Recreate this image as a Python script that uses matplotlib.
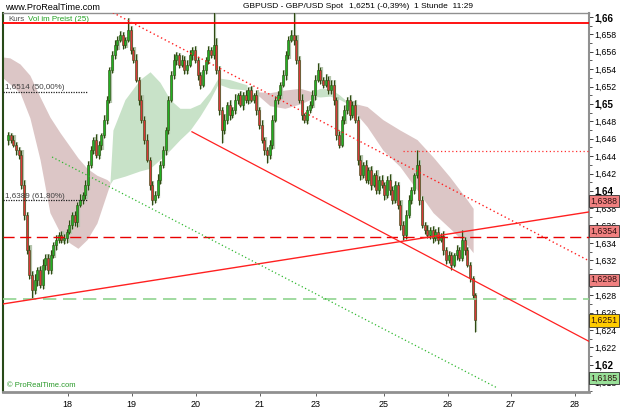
import numpy as np
import matplotlib.pyplot as plt

plt.rcParams['font.family'] = ['Liberation Sans', 'DejaVu Sans']

# hourly closes GBPUSD, bar index 0..175
closes = [
    1.6464, 1.6459, 1.6453, 1.6447, 1.6441, 1.6407, 1.6372, 1.6332, 1.6303, 1.6286,
    1.6298, 1.6309, 1.6292, 1.6315, 1.6323, 1.6309, 1.6326, 1.6338, 1.6344, 1.6349,
    1.6344, 1.6346, 1.6353, 1.6361, 1.6372, 1.6364, 1.6384, 1.6390, 1.6395, 1.6407,
    1.6430, 1.6447, 1.6459, 1.6441, 1.6453, 1.6464, 1.6482, 1.6505, 1.6539, 1.6556,
    1.6568, 1.6574, 1.6579, 1.6568, 1.6574, 1.6585, 1.6562, 1.6551, 1.6528, 1.6505,
    1.6482, 1.6459, 1.6436, 1.6407, 1.6390, 1.6395, 1.6413, 1.6430, 1.6447, 1.6470,
    1.6505, 1.6533, 1.6551, 1.6556, 1.6545, 1.6551, 1.6539, 1.6545, 1.6556, 1.6562,
    1.6551, 1.6533, 1.6522, 1.6539, 1.6551, 1.6562, 1.6556, 1.6568, 1.6539, 1.6493,
    1.6470, 1.6482, 1.6499, 1.6487, 1.6493, 1.6505, 1.6510, 1.6499, 1.6510, 1.6505,
    1.6516, 1.6505, 1.6510, 1.6493, 1.6476, 1.6459, 1.6447, 1.6441, 1.6453, 1.6482,
    1.6505, 1.6510, 1.6522, 1.6533, 1.6556, 1.6574, 1.6579, 1.6574, 1.6551, 1.6505,
    1.6487, 1.6482, 1.6493, 1.6499, 1.6510, 1.6528, 1.6539, 1.6528, 1.6522, 1.6528,
    1.6516, 1.6522, 1.6505, 1.6464, 1.6453, 1.6482, 1.6493, 1.6505, 1.6487, 1.6499,
    1.6482, 1.6436, 1.6418, 1.6430, 1.6413, 1.6424, 1.6407, 1.6418, 1.6401, 1.6413,
    1.6407, 1.6395, 1.6413, 1.6401, 1.6390, 1.6407, 1.6384, 1.6361, 1.6349, 1.6372,
    1.6390, 1.6401, 1.6418, 1.6430, 1.6390, 1.6361, 1.6355, 1.6349, 1.6355, 1.6346,
    1.6353, 1.6344, 1.6348, 1.6332, 1.6321, 1.6326, 1.6315, 1.6326, 1.6332, 1.6323,
    1.6344, 1.6332, 1.6315, 1.6300, 1.6280, 1.6251,
]
first_open = 1.6458

# wick lengths in pips above / below the body
wick_up = [
    4, 3, 5, 3, 4, 6, 5, 4, 6, 5,
    6, 4, 5, 7, 4, 5, 6, 3, 5, 4,
    5, 4, 3, 6, 4, 5, 3, 6, 4, 5,
    4, 5, 3, 6, 4, 3, 5, 4, 3, 5,
    6, 4, 5, 4, 3, 14, 5, 4, 6, 3,
    5, 4, 6, 3, 4, 5, 6, 4, 5, 3,
    4, 5, 6, 4, 3, 5, 4, 5, 6, 4,
    5, 3, 4, 6, 3, 5, 4, 45, 8, 5,
    4, 6, 3, 5, 4, 6, 3, 5, 4, 6,
    4, 5, 3, 6, 4, 5, 3, 4, 6, 5,
    4, 5, 3, 6, 5, 4, 6, 30, 5, 4,
    6, 3, 5, 4, 6, 5, 8, 4, 3, 6,
    4, 5, 6, 3, 5, 4, 6, 3, 5, 4,
    6, 4, 5, 3, 6, 4, 5, 3, 6, 4,
    5, 3, 4, 6, 5, 4, 3, 5, 4, 6,
    5, 4, 3, 17, 5, 4, 3, 6, 4, 5,
    3, 5, 4, 6, 3, 5, 4, 3, 6, 4,
    11, 3, 4, 3, 2, 3,
]
wick_dn = [
    5, 4, 3, 6, 4, 5, 6, 5, 4, 9,
    5, 7, 4, 5, 6, 4, 5, 3, 6, 4,
    4, 5, 6, 3, 5, 4, 6, 3, 5, 4,
    6, 4, 5, 3, 4, 6, 3, 5, 4, 3,
    4, 6, 3, 5, 4, 3, 5, 4, 3, 6,
    4, 5, 3, 6, 6, 4, 3, 5, 4, 6,
    5, 3, 4, 6, 4, 3, 5, 4, 3, 5,
    4, 6, 5, 3, 4, 5, 3, 4, 5, 6,
    15, 4, 5, 6, 3, 4, 5, 3, 6, 4,
    5, 3, 4, 6, 5, 4, 6, 9, 4, 5,
    3, 5, 4, 3, 5, 4, 3, 6, 5, 4,
    6, 4, 5, 3, 4, 6, 3, 5, 4, 3,
    5, 4, 6, 5, 4, 3, 5, 4, 6, 3,
    4, 6, 5, 3, 4, 5, 6, 3, 5, 4,
    4, 5, 3, 6, 5, 4, 5, 6, 5, 4,
    3, 5, 4, 3, 6, 4, 5, 3, 4, 6,
    4, 5, 3, 6, 5, 4, 6, 3, 5, 4,
    4, 6, 3, 5, 4, 13,
]

# "Vol im Preist" bands: (bar, upper, lower)
pinkA_x = [-1.9, 0.7, 4.5, 8.2, 12.0, 15.7, 19.5, 23.2, 26.2, 29.6, 33.3, 37.1, 38.2]
pinkA_top = [1.6554, 1.6553, 1.6546, 1.6533, 1.6508, 1.6485, 1.6467, 1.6451, 1.6438, 1.6426, 1.6418, 1.6413, 1.6410]
pinkA_bot = [1.6530, 1.6523, 1.6513, 1.6484, 1.6436, 1.6375, 1.6352, 1.6340, 1.6334, 1.6344, 1.6363, 1.6398, 1.6408]
greenA_x = [38.2, 39.3, 43.8, 49.4, 53.2, 56.9, 60.7, 64.4, 68.2, 71.9, 75.7, 78.7, 83.1, 89.5]
greenA_top = [1.6410, 1.6470, 1.6505, 1.6528, 1.6537, 1.6525, 1.6505, 1.6495, 1.6495, 1.6500, 1.6514, 1.6530, 1.6528, 1.6522]
greenA_bot = [1.6408, 1.6413, 1.6417, 1.6423, 1.6426, 1.6436, 1.6447, 1.6459, 1.6470, 1.6486, 1.6505, 1.6523, 1.6518, 1.6516]
pinkB_x = [93.6, 98.1, 103.7, 109.4, 113.9]
pinkB_top = [1.6514, 1.6513, 1.6516, 1.6518, 1.6514]
pinkB_bot = [1.6510, 1.6498, 1.6495, 1.6500, 1.6506]
greenB_x = [113.9, 116.9, 120.6, 124.3, 126.2]
greenB_top = [1.6514, 1.6518, 1.6518, 1.6510, 1.6505]
greenB_bot = [1.6509, 1.6508, 1.6509, 1.6505, 1.6502]
pinkC_x = [126.2, 129.2, 134.5, 140.4, 146.8, 153.2, 159.2, 165.5, 171.9, 174.2]
pinkC_top = [1.6505, 1.6501, 1.6497, 1.6482, 1.6470, 1.6459, 1.6439, 1.6416, 1.6390, 1.6380]
pinkC_bot = [1.6502, 1.6493, 1.6474, 1.6447, 1.6428, 1.6401, 1.6375, 1.6357, 1.6338, 1.6329]

# drawn lines (bar, price)
resist_level = 1.6593
mid_level = 1.6347
green_level = 1.6276
dot_level = 1.6446
dot_level_start = 147.9
down_dotted = ([39.3, 218.0], [1.6605, 1.6319])
down_solid = ([68.9, 217.6], [1.6468, 1.6227])
up_solid = ([-1.9, 218.0], [1.6270, 1.6376])
green_dotted = ([16.5, 183.5], [1.6439, 1.6173])
fib_levels = [1.6514, 1.6389]
fib_labels = ['1,6514 (50,00%)', '1,6389 (61,80%)']
fib_end = 30.0

# price boxes on the right
box_prices = [1.6388, 1.6354, 1.6298, 1.6251, 1.6185]
box_labels = ['1,6388', '1,6354', '1,6298', '1,6251', '1,6185']
box_colors = ['#f08080', '#f08080', '#f08080', '#ffcc00', '#98e098']

day_ticks = [22.3, 46.3, 70.3, 94.3, 115.2, 140.7, 164.7, 188.3, 212.2]
day_labels = ['18', '19', '20', '21', '23', '25', '26', '27', '28']

fig = plt.figure(figsize=(6.25, 4.17), dpi=100)
ax = fig.add_axes([3 / 625, 1 - 392 / 417, 586 / 625, 379 / 417])
ax.set_xlim(-1.87, 217.6)
ax.set_ylim(1.616875, 1.66046)

pink = '#dcc6c6'
green = '#c8e2c8'
ax.fill_between(pinkA_x, pinkA_bot, pinkA_top, color=pink, lw=0, zorder=1)
ax.fill_between(greenA_x, greenA_bot, greenA_top, color=green, lw=0, zorder=1)
ax.fill_between(pinkB_x, pinkB_bot, pinkB_top, color=pink, lw=0, zorder=1)
ax.fill_between(greenB_x, greenB_bot, greenB_top, color=green, lw=0, zorder=1)
ax.fill_between(pinkC_x, pinkC_bot, pinkC_top, color=pink, lw=0, zorder=1)

# candles
c = np.array(closes)
o = np.array([first_open] + closes[:-1])
x = np.arange(len(c))
hi = np.maximum(o, c) + np.array(wick_up) * 0.0001
lo = np.minimum(o, c) - np.array(wick_dn) * 0.0001
ax.vlines(x + 0.45, lo, hi, color='#b6c6ae', lw=1.6, zorder=2)
ax.vlines(x, lo, hi, color='#2f4a12', lw=0.8, zorder=3)
body_col = np.where(c >= o, '#22b022', '#d83838')
ax.bar(x, c - o, bottom=o, width=0.75, color=body_col, edgecolor='#2f4a12', lw=0.4, zorder=4)

# lines
ax.axhline(resist_level, color='#ff0000', lw=1.3, zorder=5)
ax.axhline(mid_level, color='#e80000', lw=1.0, dashes=(8, 4), zorder=5)
ax.axhline(green_level, color='#90d490', lw=1.2, dashes=(8, 4), zorder=5)
ax.plot([dot_level_start, 220], [dot_level, dot_level], color='#ff3030', lw=0.9, dashes=(1, 2), zorder=5)
ax.plot(*down_dotted, color='#ff2020', lw=1.0, dashes=(1, 2), zorder=5)
ax.plot(*down_solid, color='#ff2020', lw=0.9, zorder=5)
ax.plot(*up_solid, color='#ff2020', lw=1.0, zorder=5)
ax.plot(*green_dotted, color='#30b830', lw=0.9, dashes=(1, 2), zorder=5)
for lv, lb in zip(fib_levels, fib_labels):
    ax.plot([-1.9, fib_end], [lv, lv], color='#202020', lw=0.9, dashes=(1, 1), zorder=5)
    ax.text(-1.0, lv + 0.0001, lb, fontsize=5.8, color='#404040', va='bottom', ha='left', zorder=6)

ax.text(0.006, 0.012, '\u00a9 ProRealTime.com', transform=ax.transAxes, fontsize=5.5, color='#2a9a2a', zorder=6)

# axes styling
ax.yaxis.tick_right()
yt = np.round(np.arange(1.618, 1.6601, 0.002), 3)
ax.set_yticks(yt)
labels = []
for v in yt:
    if abs(v - 1.63) < 1e-6:
        labels.append('')  # hidden behind the 1,6298 box
    elif abs(v * 100 - round(v * 100)) < 1e-6:
        labels.append(('%.2f' % v).replace('.', ','))
    else:
        labels.append(('%.3f' % v).replace('.', ','))
ax.set_yticklabels(labels)
for v, lab in zip(yt, ax.get_yticklabels()):
    if abs(v * 100 - round(v * 100)) < 1e-6:
        lab.set_fontweight('bold')
        lab.set_fontsize(7)
    else:
        lab.set_fontsize(6.3)
ax.set_yticks(np.arange(1.617, 1.6605, 0.001), minor=True)
ax.tick_params(axis='y', which='major', length=3, width=0.7, color='#404040', pad=1)
ax.tick_params(axis='y', which='minor', length=2, width=0.6, color='#404040')
ax.set_xticks(day_ticks)
ax.set_xticklabels(day_labels, fontsize=6.5)
ax.tick_params(axis='x', length=3, width=0.7, color='#606060', pad=3)
ax.spines['top'].set_color('#909090')
ax.spines['top'].set_linewidth(1)
ax.spines['right'].set_color('#909090')
ax.spines['right'].set_linewidth(1.5)
ax.spines['bottom'].set_color('#909090')
ax.spines['bottom'].set_linewidth(2)
ax.spines['left'].set_color('#284a18')
ax.spines['left'].set_linewidth(1.5)

for p, lb, fc in zip(box_prices, box_labels, box_colors):
    ax.text(1.003, p, lb, transform=ax.get_yaxis_transform(), fontsize=6.3, color='#301010',
            va='center', ha='left', zorder=10,
            bbox=dict(boxstyle='square,pad=0.18', fc=fc, ec='#303030', lw=0.6))

# header texts
fig.text(5 / 625, 1 - 7 / 417, 'www.ProRealTime.com', fontsize=6.6, va='center')
fig.text(243 / 625, 1 - 7 / 417, 'GBPUSD - GBP/USD Spot', fontsize=6.0, va='center')
fig.text(349 / 625, 1 - 7 / 417, '1,6251 (-0,39%)', fontsize=6.0, va='center')
fig.text(414 / 625, 1 - 7 / 417, '1 Stunde  11:29', fontsize=6.0, va='center')
ax.text(0.009, 0.992, 'Kurs', transform=ax.transAxes, fontsize=5.8, color='#505050', va='top')
ax.text(0.043, 0.992, 'Vol im Preist (25)', transform=ax.transAxes, fontsize=5.8, color='#20a020', va='top')

fig.savefig('out.png', dpi=100)
